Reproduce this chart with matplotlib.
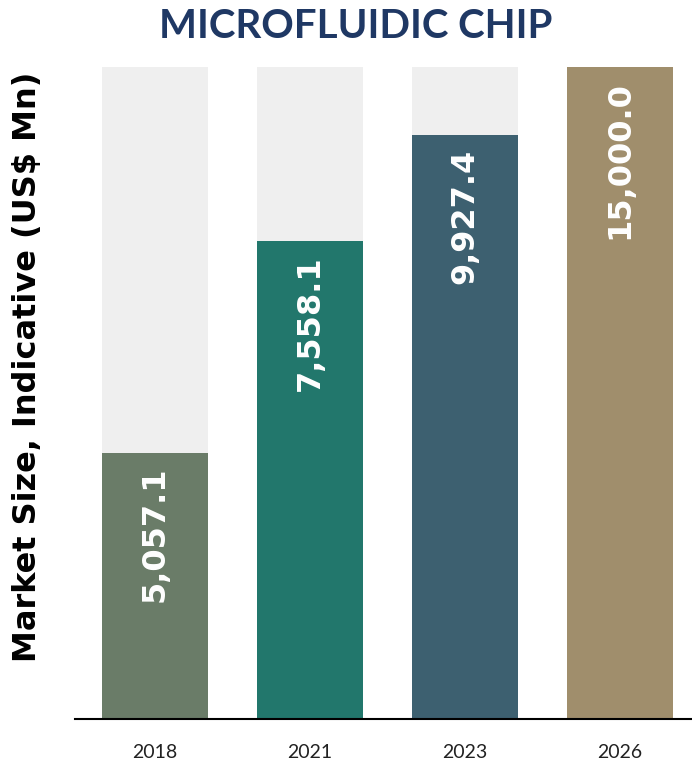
import matplotlib
matplotlib.use("Agg")
import matplotlib.pyplot as plt

years = ["2018", "2021", "2023", "2026"]
value_labels = [5057.1, 7558.1, 9927.4, 15000.0]
# bar heights as drawn in the picture (not proportional to labels)
bar_heights = [6120, 11000, 13440, 15000]
bar_colors = ["#6A7C68", "#22776C", "#3D6070", "#A08E6C"]
axis_max = 15000

W, H = 692, 764
fig = plt.figure(figsize=(W / 100, H / 100), dpi=100)
ax = fig.add_axes([75 / W, 1 - 719 / H, (692 - 75) / W, (719 - 67) / H])

x = list(range(len(years)))
ax.bar(x, [axis_max] * len(years), width=0.68, color="#EFEFEF", zorder=1)
ax.bar(x, bar_heights, width=0.68, color=bar_colors, zorder=2)

for xi, h, v in zip(x, bar_heights, value_labels):
    ax.annotate(f"{v:,.1f}", xy=(xi, h), xytext=(0, -10), textcoords="offset points",
                rotation=90, ha="center", va="top", color="white",
                fontsize=23, fontweight="bold", family="DejaVu Sans", zorder=3)

ax.set_xlim(-0.516, 3.465)
ax.set_ylim(0, axis_max)
ax.set_xticks(x)
ax.set_xticklabels(years, fontsize=14, color="#222222", family="Lato")
ax.tick_params(axis="x", length=0, pad=18)
ax.set_yticks([])
for s in ["top", "right", "left"]:
    ax.spines[s].set_visible(False)
ax.spines["bottom"].set_linewidth(1.5)
ax.spines["bottom"].set_color("black")

fig.text(28 / W, 1 - 367 / H, "Market Size, Indicative (US$ Mn)", rotation=90,
         ha="center", va="center", fontsize=23, fontweight="bold", family="DejaVu Sans")
fig.text(356 / W, 1 - 26 / H, "MICROFLUIDIC CHIP", ha="center", va="center",
         fontsize=29, fontweight="bold", color="#1F3864", family="Lato")

fig.savefig("out.png", dpi=100)
